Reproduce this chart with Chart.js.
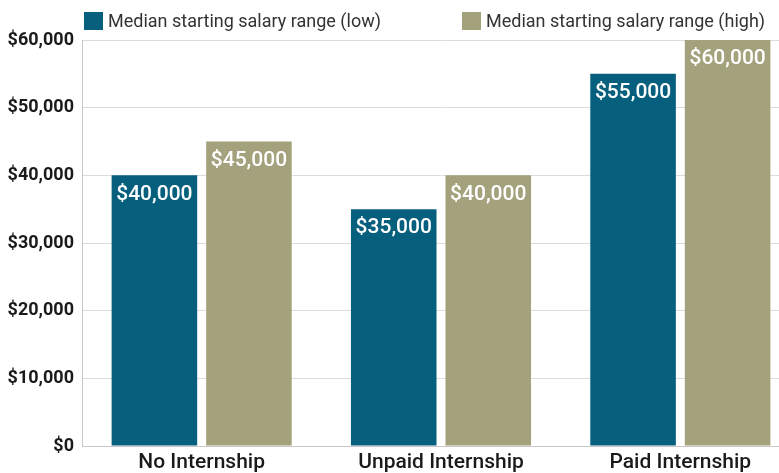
<!DOCTYPE html>
<html>
<head>
<meta charset="utf-8">
<script src="https://cdn.jsdelivr.net/npm/chart.js@4"></script>
<style>
  html, body { margin: 0; padding: 0; background: #fff; overflow: hidden; }
  #wrap { position: relative; width: 779px; height: 473px; overflow: hidden; }
  #legend { position: absolute; top: 10px; left: 0; font-family: Roboto, sans-serif; font-size: 18px; color: #333; }
  .item { position: absolute; top: 0; white-space: nowrap; display: flex; align-items: center; }
  .box { display: inline-block; width: 19px; height: 18px; margin-right: 5px; }
</style>
</head>
<body>
<div id="wrap">
  <canvas id="salaryChart" width="800" height="473"></canvas>
  <div id="legend"></div>
</div>
<script>
const categories = ["No Internship", "Unpaid Internship", "Paid Internship"];
const lowSalary = [40000, 35000, 55000];
const highSalary = [45000, 40000, 60000];
const yTicks = [0, 10000, 20000, 30000, 40000, 50000, 60000];

const fontFamily = "Roboto, sans-serif";
const lowColor = "#075f7e";
const highColor = "#a4a27d";

function money(v) {
  return "$" + v.toLocaleString("en-US");
}

// labels inside the top of each bar
const barLabels = {
  id: "barLabels",
  afterDatasetsDraw(chart) {
    const ctx = chart.ctx;
    ctx.save();
    ctx.fillStyle = "#fff";
    ctx.font = "500 21px " + fontFamily;
    ctx.textAlign = "center";
    ctx.textBaseline = "middle";
    chart.data.datasets.forEach((ds, i) => {
      chart.getDatasetMeta(i).data.forEach((bar, j) => {
        ctx.fillText(money(ds.data[j]), bar.x, bar.y + 19);
      });
    });
    ctx.restore();
  }
};

const ctx = document.getElementById("salaryChart").getContext("2d");

const chartInstance = new Chart(ctx, {
  type: "bar",
  data: {
    labels: categories,
    datasets: [
      { label: "Median starting salary range (low)", data: lowSalary, backgroundColor: lowColor },
      { label: "Median starting salary range (high)", data: highSalary, backgroundColor: highColor }
    ]
  },
  options: {
    responsive: false,
    animation: false,
    categoryPercentage: 0.79,
    barPercentage: 0.905,
    layout: { padding: { top: 40, left: 0, right: 0, bottom: 0 } },
    plugins: {
      legend: { display: false },
      tooltip: { enabled: false }
    },
    scales: {
      x: {
        grid: { display: false },
        border: { color: "#c8c8c8" },
        afterFit: axis => { axis.height = 27; },
        ticks: { color: "#1a1a1a", font: { family: fontFamily, size: 21, weight: "500" }, padding: -4 }
      },
      y: {
        min: 0,
        max: 60000,
        afterBuildTicks: axis => { axis.ticks = yTicks.map(v => ({ value: v })); },
        afterFit: axis => { axis.width = 82; },
        grid: { color: "#dcdcdc", drawTicks: false },
        border: { color: "#c8c8c8" },
        ticks: {
          color: "#1a1a1a",
          padding: 8,
          font: { family: fontFamily, size: 18, weight: "bold" },
          callback: v => money(v)
        }
      }
    }
  },
  plugins: [barLabels]
});

// html legend built from the datasets
const legendEl = document.getElementById("legend");
const legendX = [84, 462];
chartInstance.data.datasets.forEach((ds, i) => {
  const item = document.createElement("div");
  item.className = "item";
  item.style.left = legendX[i] + "px";
  item.innerHTML = '<span class="box" style="background:' + ds.backgroundColor + '"></span>' + ds.label;
  legendEl.appendChild(item);
});
</script>
</body>
</html>
